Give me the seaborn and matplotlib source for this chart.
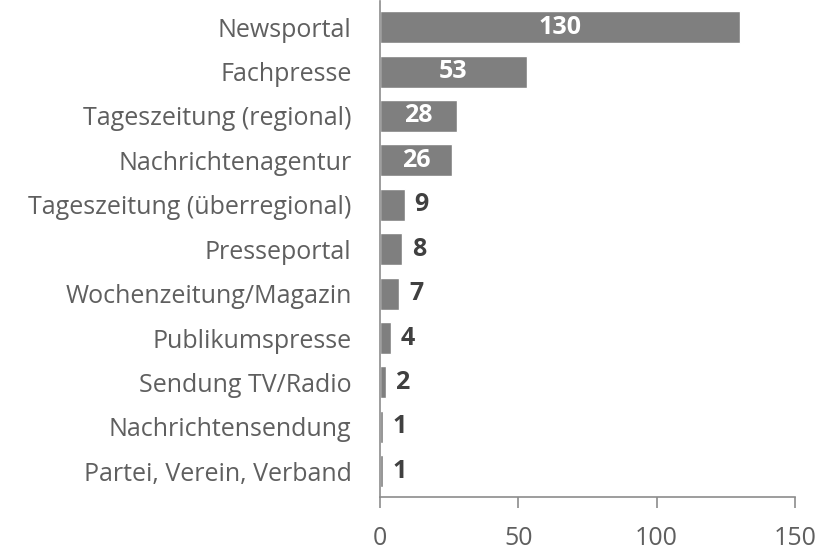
import matplotlib
matplotlib.use("Agg")
import matplotlib.pyplot as plt
import seaborn as sns
import pandas as pd

# Daten
kategorien = ['Newsportal', 'Fachpresse', 'Tageszeitung (regional)', 'Nachrichtenagentur',
              'Tageszeitung (überregional)', 'Presseportal', 'Wochenzeitung/Magazin',
              'Publikumspresse', 'Sendung TV/Radio', 'Nachrichtensendung',
              'Partei, Verein, Verband']
anzahl = [130, 53, 28, 26, 9, 8, 7, 4, 2, 1, 1]
x_ticks = [0, 50, 100, 150]

df = pd.DataFrame({'Kategorie': kategorien, 'Anzahl': anzahl})

sns.set_style('white')
plt.rcParams['font.family'] = ['Open Sans', 'DejaVu Sans']

fig = plt.figure(figsize=(8.28, 5.55), dpi=100)
ax = fig.add_axes([0.459, 0.1045, 0.501, 0.893])

sns.barplot(data=df, y='Kategorie', x='Anzahl', orient='h', color='#7f7f7f',
            saturation=1, width=0.72, ax=ax)

# Werte beschriften
for i, v in enumerate(anzahl):
    if v >= 20:
        ax.text(v / 2, i, str(v), ha='center', va='center', color='white',
                fontsize=18, fontweight='bold')
    else:
        ax.annotate(str(v), (v, i), xytext=(7, 0), textcoords='offset points',
                    ha='left', va='center', color='#404040', fontsize=18,
                    fontweight='bold')

ax.set_xlim(0, 150)
ax.set_ylim(10.58, -0.58)
ax.set_xticks(x_ticks)
ax.set_xlabel('')
ax.set_ylabel('')

for s in ['top', 'right']:
    ax.spines[s].set_visible(False)
for s in ['left', 'bottom']:
    ax.spines[s].set_color('#8c8c8c')
    ax.spines[s].set_linewidth(1.2)

ax.tick_params(axis='x', bottom=True, length=8, width=1.2, color='#8c8c8c',
               labelsize=18, labelcolor='#5f5f5f', pad=13)
ax.tick_params(axis='y', left=False, labelsize=18, labelcolor='#5f5f5f', pad=17)

fig.savefig('out.png', dpi=100)
